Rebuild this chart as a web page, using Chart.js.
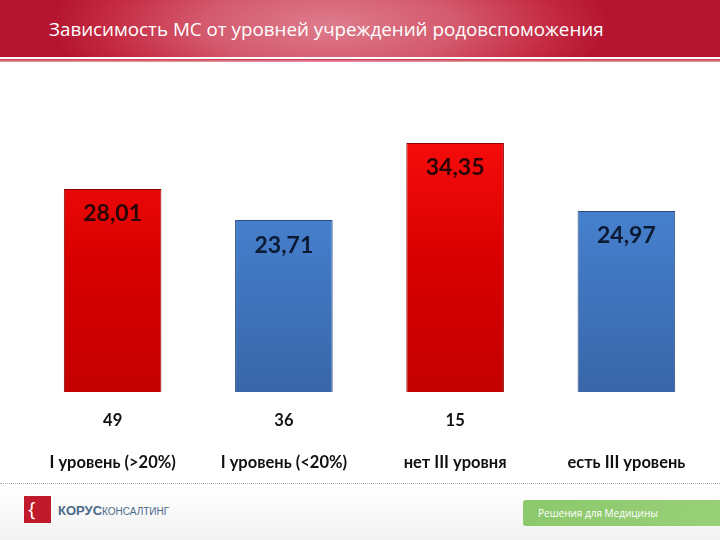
<!DOCTYPE html>
<html>
<head>
<meta charset="utf-8">
<script src="https://cdn.jsdelivr.net/npm/chart.js@4"></script>
<style>
  body { margin: 0; width: 720px; height: 540px; background: #fff; position: relative; overflow: hidden; font-family: "Open Sans", sans-serif; }
  .header { position: absolute; left: 0; top: 0; width: 720px; height: 57px;
    background: radial-gradient(ellipse 280px 90px at 330px 25px, #dd7c8c 0%, #d45a6e 45%, #c42a42 80%, #b41430 100%); }
  .header h1 { margin: 0; position: absolute; left: 49px; top: 16px; font-size: 18.8px; font-weight: normal; color: #fff; }
  .redline { position: absolute; left: 0; top: 59px; width: 720px; height: 3px; background: linear-gradient(#c83048, #e8a0ac); }
  .dots { position: absolute; left: 0; top: 483px; width: 720px; border-top: 1px dotted #aaa; }
  .footer { position: absolute; left: 0; top: 484px; width: 720px; height: 56px; background: linear-gradient(#fff, #f2f2f2); }
  .logo { position: absolute; left: 24px; top: 496px; width: 27px; height: 27px; background: #c01a2c; color: #fff; font-size: 20px; line-height: 25px; text-indent: 4px; }
  .brand { position: absolute; left: 58px; top: 503px; font-family: "Liberation Sans", sans-serif; font-size: 13px; color: #4a6a8a; }
  .brand b { font-weight: bold; }
  .brand span { font-size: 10px; }
  .green { position: absolute; left: 523px; top: 500px; width: 197px; height: 26px; background: linear-gradient(90deg, #8cc86c, #98d078); border-radius: 3px 0 0 3px; color: #fff; font-size: 10px; line-height: 26px; text-indent: 15px; }
  #wrap { position: absolute; left: 0; top: 62px; width: 720px; height: 418px; }
</style>
</head>
<body>
<div class="header"><h1>Зависимость МС от уровней учреждений родовспоможения</h1></div>
<div class="redline"></div>
<div class="footer"></div>
<div class="dots"></div>
<div class="logo">{</div>
<div class="brand"><b>КОРУС</b><span>КОНСАЛТИНГ</span></div>
<div class="green">Решения для Медицины</div>
<div id="wrap"><canvas id="myChart"></canvas></div>
<script>
const categories = ['I уровень (>20%)', 'I уровень (<20%)', 'нет III уровня', 'есть III уровень'];
const values = [28.01, 23.71, 34.35, 24.97];
const counts = ['49', '36', '15', ''];
const barTypes = ['red', 'blue', 'red', 'blue'];

function barFill(context) {
    const chart = context.chart;
    const area = chart.chartArea;
    if (!area) return '#d00';
    const type = barTypes[context.dataIndex];
    const g = chart.ctx.createLinearGradient(0, area.top, 0, area.bottom);
    if (type === 'red') {
        g.addColorStop(0, '#ff1010');
        g.addColorStop(0.55, '#d80000');
        g.addColorStop(1, '#c40000');
    } else {
        g.addColorStop(0, '#4e8ede');
        g.addColorStop(0.55, '#4279c4');
        g.addColorStop(1, '#3866a8');
    }
    return g;
}

const valueLabels = {
    id: 'valueLabels',
    afterDatasetsDraw(chart) {
        const ctx = chart.ctx;
        const meta = chart.getDatasetMeta(0);
        ctx.save();
        ctx.font = 'bold 23px Lato, sans-serif';
        ctx.textAlign = 'center';
        ctx.textBaseline = 'middle';
        meta.data.forEach((bar, i) => {
            ctx.fillStyle = barTypes[i] === 'red' ? '#2a0606' : '#0c1a34';
            ctx.fillText(values[i].toFixed(2).replace('.', ','), bar.x, bar.y + 25);
        });
        ctx.restore();
    }
};

const config = {
    type: 'bar',
    data: {
        labels: categories.map((c, i) => [counts[i], c]),
        datasets: [{
            data: values,
            backgroundColor: barFill,
            borderColor: (c) => barTypes[c.dataIndex] === 'red' ? '#8a0000' : '#2c4c80',
            borderWidth: 1,
            categoryPercentage: 1,
            barPercentage: 0.57
        }]
    },
    options: {
        responsive: true,
        maintainAspectRatio: false,
        animation: false,
        layout: { padding: { left: 27, right: 8, top: 40, bottom: 0 } },
        scales: {
            x: {
                grid: { display: false },
                border: { display: false },
                afterFit(scale) { scale.height = 88; },
                ticks: {
                    color: '#111',
                    font: { family: 'Lato, sans-serif', weight: 'bold', size: 16.5, lineHeight: 2.55 },
                    padding: 0,
                    maxRotation: 0
                }
            },
            y: {
                display: false,
                min: 0,
                max: 40
            }
        },
        plugins: {
            legend: { display: false },
            tooltip: { enabled: false },
            title: { display: false }
        }
    },
    plugins: [valueLabels]
};

const myChart = new Chart('myChart', config);
</script>
</body>
</html>
